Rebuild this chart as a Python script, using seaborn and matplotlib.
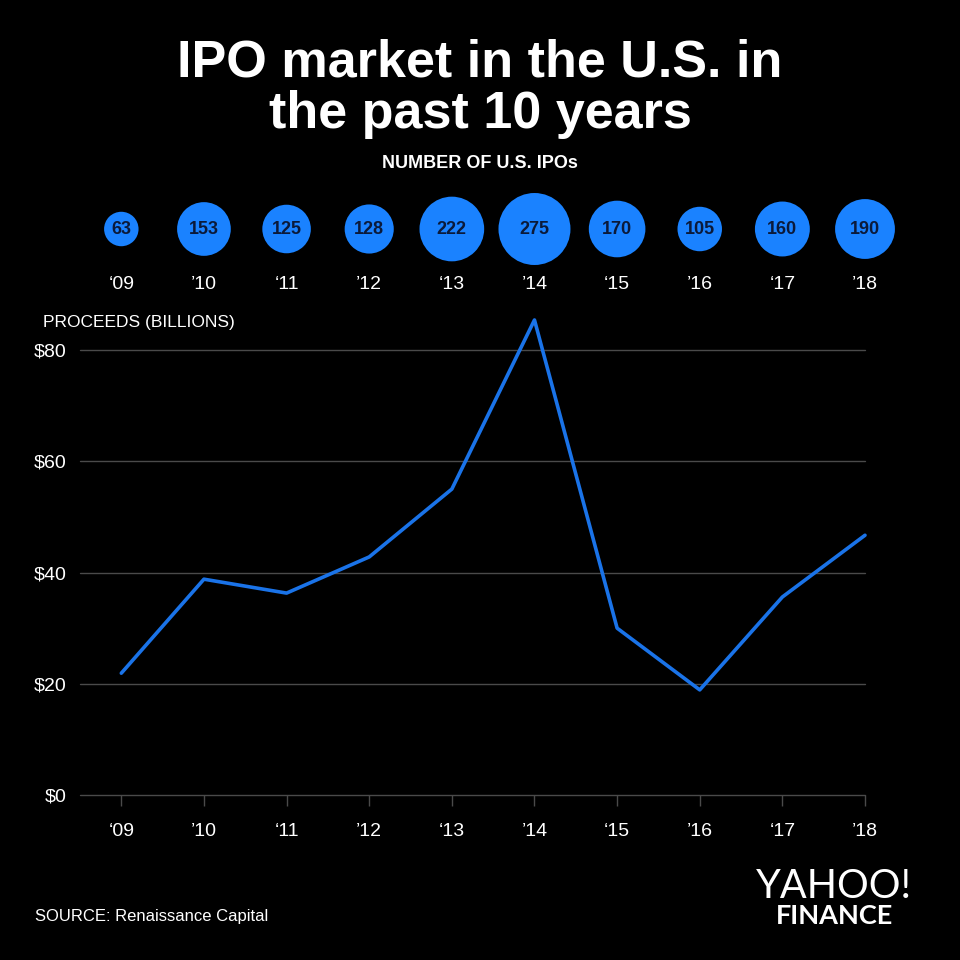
import matplotlib
matplotlib.use("Agg")
import matplotlib.pyplot as plt
import seaborn as sns
import pandas as pd

# ==========================================
# DATA
# ==========================================
years = ["\u201809", "\u201910", "\u201811", "\u201912", "\u201813",
         "\u201914", "\u201815", "\u201916", "\u201817", "\u201918"]
num_ipos = [63, 153, 125, 128, 222, 275, 170, 105, 160, 190]
proceeds = [21.9, 38.8, 36.3, 42.8, 55.0, 85.4, 30.0, 18.9, 35.6, 46.7]
y_ticks = [0, 20, 40, 60, 80]
y_labels = ["$0", "$20", "$40", "$60", "$80"]

df = pd.DataFrame({"pos": range(len(years)), "year": years,
                   "ipos": num_ipos, "proceeds": proceeds})

BG = "black"
BUBBLE = "#1a82ff"
LINE = "#1a73e8"
GRID = "#4a4a4a"

sns.set_theme(style="dark")
plt.rcParams["font.family"] = ["Liberation Sans", "DejaVu Sans"]

fig = plt.figure(figsize=(9.6, 9.6), dpi=100)
fig.patch.set_facecolor(BG)

W = 960.0
left, right = 80 / W, 865 / W

# ==========================================
# TITLE
# ==========================================
fig.text(0.5, 1 - 89 / W, "IPO market in the U.S. in\nthe past 10 years",
         ha="center", va="center", color="white", fontsize=37.5,
         fontweight="bold", linespacing=1.06)
fig.text(0.5, 1 - 163 / W, "NUMBER OF U.S. IPOs", ha="center", va="center",
         color="white", fontsize=13, fontweight="bold")

# ==========================================
# BUBBLES
# ==========================================
axb = fig.add_axes([left, 1 - 265 / W, right - left, 72 / W])
axb.set_facecolor(BG)
df["row"] = 0
sns.scatterplot(data=df, x="pos", y="row", size="ipos", sizes=(0, 2687),
                size_norm=(0, 275), color=BUBBLE, edgecolor="none",
                legend=False, ax=axb, clip_on=False)
for i, n in enumerate(num_ipos):
    axb.text(i, 0, str(n), ha="center", va="center", color="#0b1a3a",
             fontsize=13, fontweight="bold")
axb.set_xlim(-0.5, 9)
axb.set_ylim(-1, 1)
axb.set_xticks(range(len(years)))
axb.set_xticklabels(years, color="white", fontsize=14)
axb.tick_params(axis="x", length=0, pad=8)
axb.set_yticks([])
axb.set_xlabel("")
axb.set_ylabel("")
for s in axb.spines.values():
    s.set_visible(False)

# ==========================================
# LINE CHART
# ==========================================
ax = fig.add_axes([left, 1 - 795 / W, right - left, 500.6 / W])
ax.set_facecolor(BG)
sns.lineplot(data=df, x="pos", y="proceeds", color=LINE, linewidth=2.6,
             ax=ax, clip_on=False, zorder=3)
ax.set_xlim(-0.5, 9)
ax.set_ylim(0, 90)
ax.set_yticks(y_ticks)
ax.set_yticklabels(y_labels, color="white", fontsize=14)
ax.set_xticks(range(len(years)))
ax.set_xticklabels(years, color="white", fontsize=14)
ax.tick_params(axis="y", length=0, pad=10)
ax.tick_params(axis="x", length=8, width=1, color=GRID, pad=12, direction="out",
               bottom=True)
ax.grid(False)
for yv in y_ticks:
    ax.axhline(yv, color=GRID, linewidth=1, zorder=1, clip_on=False)
for s in ax.spines.values():
    s.set_visible(False)
ax.set_xlabel("")
ax.set_ylabel("")

fig.text(43 / W, 1 - 322 / W, "PROCEEDS (BILLIONS)", ha="left", va="center",
         color="white", fontsize=12.5)

# ==========================================
# FOOTER
# ==========================================
fig.text(35 / W, 1 - 916 / W, "SOURCE: Renaissance Capital", ha="left",
         va="center", color="white", fontsize=12)
fig.text(834 / W, 1 - 886 / W, "YAHOO!", ha="center", va="center",
         color="white", fontsize=28.5, fontweight="normal", family=["Lato", "DejaVu Sans"])
fig.text(835 / W, 1 - 916 / W, "FINANCE", ha="center", va="center",
         color="white", fontsize=19.5, fontweight="bold", family=["Lato", "DejaVu Sans"])

fig.savefig("out.png", dpi=100, facecolor=BG)
